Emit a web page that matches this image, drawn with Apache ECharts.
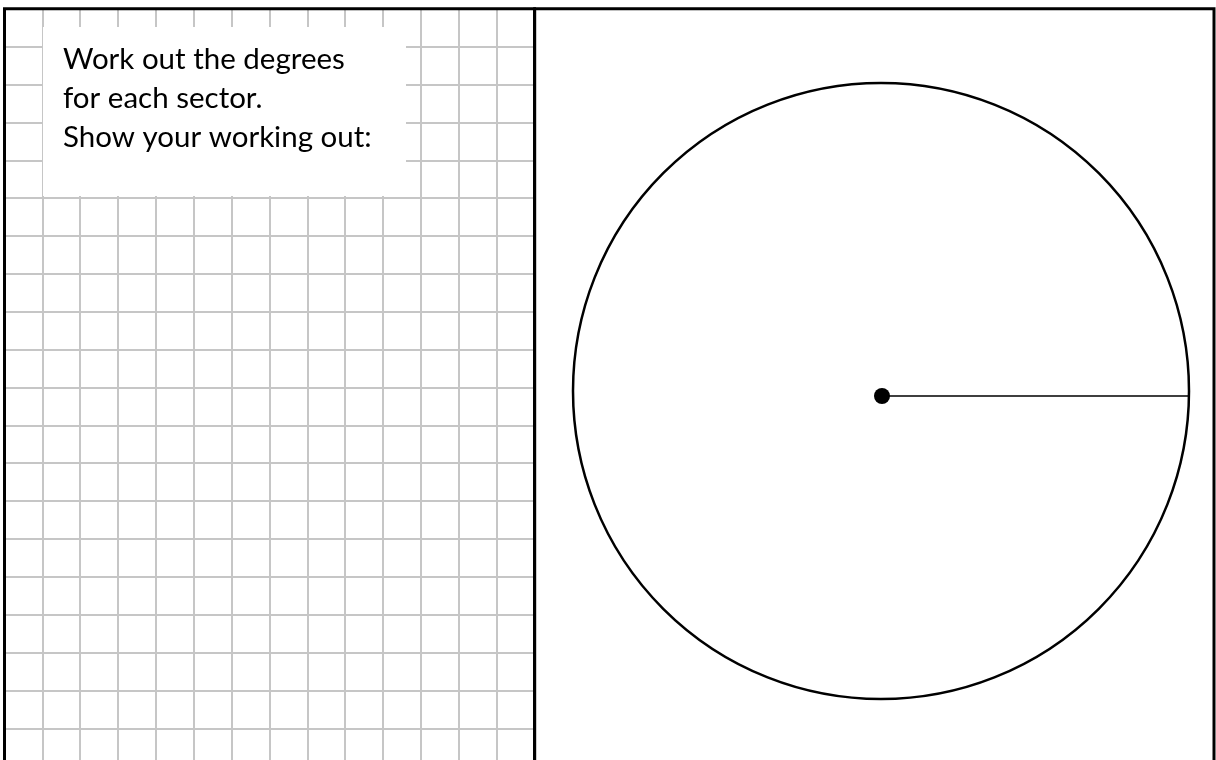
<!DOCTYPE html>
<html>
<head>
<meta charset="utf-8">
<script src="https://cdn.jsdelivr.net/npm/echarts@6/dist/echarts.min.js"></script>
<style>
  html, body { margin: 0; padding: 0; background: #fff; }
  #chart { width: 1216px; height: 760px; }
</style>
</head>
<body>
<div id="chart"></div>
<script>
// ---- data ----
const squareColumns = [0, 14];          // squared-paper x extent (cells)
const squareRows = [0, 20];             // squared-paper y extent (cells)
const noteLines = ['Work out the degrees', 'for each sector.', 'Show your working out:'];
const radiusExtent = [0, 1];            // radius of the pie outline
const centreDot = [[0, 0]];             // [radius, angle] of the centre point

const chart = echarts.init(document.getElementById('chart'));

const option = {
  backgroundColor: '#ffffff',
  animation: false,
  grid: [
    { left: 4.5, top: 8.8, width: 530, height: 757.4, show: true, outerBoundsMode: 'none',
      borderColor: '#000', borderWidth: 3, backgroundColor: 'transparent', z: 5 },
    { left: 534.7, top: 8.8, width: 679.3, height: 757.4, show: true, outerBoundsMode: 'none',
      borderColor: '#000', borderWidth: 3, backgroundColor: 'transparent', z: 5 }
  ],
  xAxis: [
    { gridIndex: 0, type: 'value', min: squareColumns[0], max: squareColumns[1], interval: 1, z: 0,
      axisLine: { show: false }, axisTick: { show: false }, axisLabel: { show: false },
      splitLine: { show: true, lineStyle: { color: '#c6c6c6', width: 2 } } },
    { gridIndex: 1, type: 'value', min: 0, max: 1, show: false }
  ],
  yAxis: [
    { gridIndex: 0, type: 'value', inverse: true, min: squareRows[0], max: squareRows[1], interval: 1, z: 0,
      axisLine: { show: false }, axisTick: { show: false }, axisLabel: { show: false },
      splitLine: { show: true, lineStyle: { color: '#c6c6c6', width: 2 } } },
    { gridIndex: 1, type: 'value', min: 0, max: 1, show: false }
  ],
  polar: [
    { center: [881, 391], radius: 308 },
    { center: [882, 396], radius: 307 }
  ],
  angleAxis: [
    { polarIndex: 0, type: 'value', min: 0, max: 360, startAngle: 0,
      axisLine: { show: true, lineStyle: { color: '#000', width: 2.5 } },
      axisTick: { show: false }, axisLabel: { show: false }, splitLine: { show: false } },
    { polarIndex: 1, type: 'value', min: 0, max: 360, startAngle: 0,
      axisLine: { show: false }, axisTick: { show: false }, axisLabel: { show: false },
      splitLine: { show: false } }
  ],
  radiusAxis: [
    { polarIndex: 0, type: 'value', min: radiusExtent[0], max: radiusExtent[1],
      axisLine: { show: false }, axisTick: { show: false }, axisLabel: { show: false },
      splitLine: { show: false } },
    { polarIndex: 1, type: 'value', min: radiusExtent[0], max: radiusExtent[1],
      axisLine: { show: true, lineStyle: { color: '#000', width: 1.5 } },
      axisTick: { show: false }, axisLabel: { show: false }, splitLine: { show: false } }
  ],
  series: [
    { type: 'scatter', coordinateSystem: 'polar', polarIndex: 1,
      data: centreDot, symbol: 'circle', symbolSize: 16,
      itemStyle: { color: '#000', opacity: 1 }, silent: true, z: 10 }
  ],
  graphic: [
    { type: 'rect', z: 100, shape: { x: 43, y: 27, width: 363, height: 169 },
      style: { fill: '#fff' } },
    { type: 'text', z: 101, x: 63, y: 40,
      style: { text: noteLines.join('\n'), font: '29.5px Lato', fill: '#000',
               lineHeight: 39, verticalAlign: 'top' } }
  ]
};

chart.setOption(option);
</script>
</body>
</html>
